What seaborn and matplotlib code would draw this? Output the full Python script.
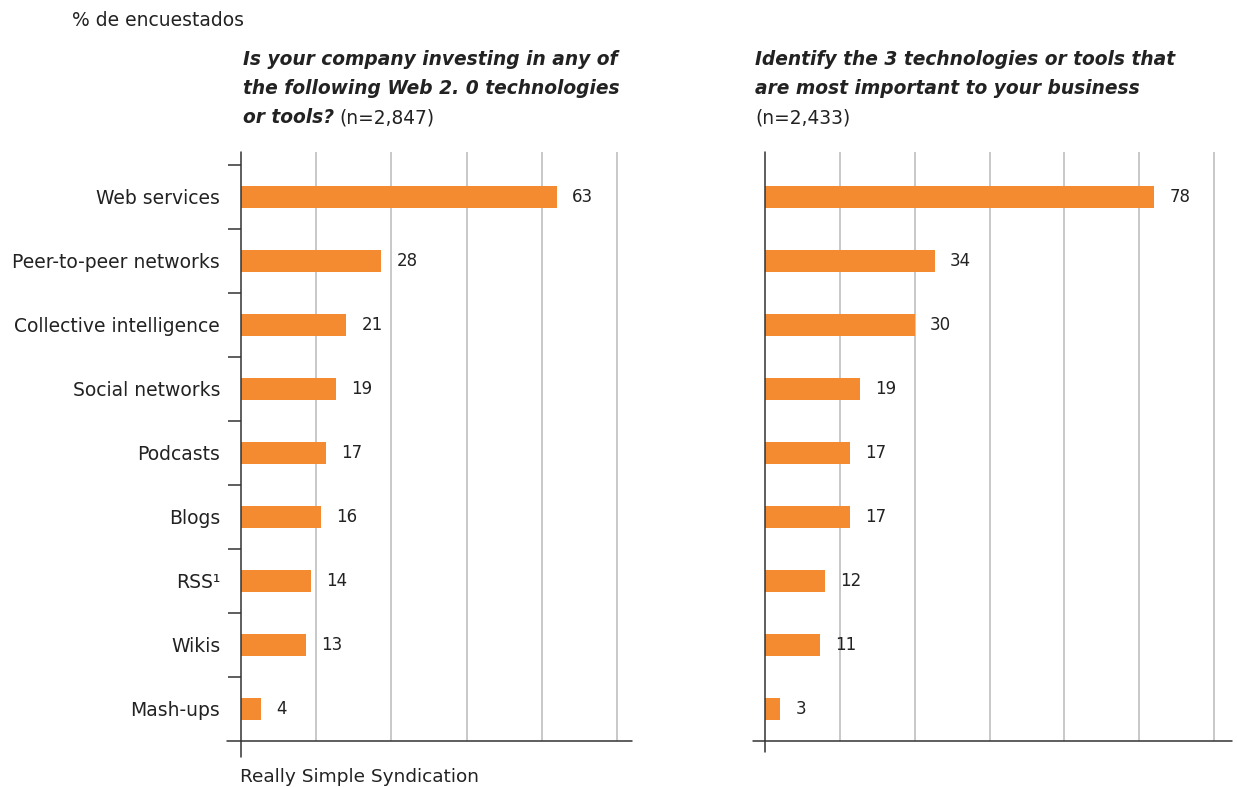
import matplotlib
matplotlib.use("Agg")
import matplotlib.pyplot as plt
import seaborn as sns
import pandas as pd

# Survey data (% of respondents)
categories = ["Web services", "Peer-to-peer networks", "Collective intelligence",
              "Social networks", "Podcasts", "Blogs", "RSS¹", "Wikis", "Mash-ups"]
investing = [63, 28, 21, 19, 17, 16, 14, 13, 4]
most_important = [78, 34, 30, 19, 17, 17, 12, 11, 3]
left_grid = [15, 30, 45, 60, 75]
right_grid = [15, 30, 45, 60, 75, 90]

ORANGE = "#F58B30"
INK = "#222222"
GRID = "#c4c4c4"

sns.set_style("white")
plt.rcParams["font.family"] = ["DejaVu Sans"]
plt.rcParams["text.color"] = INK

W, H = 1237, 787
fig = plt.figure(figsize=(W / 100, H / 100), dpi=100)


def px_axes(x0, x1, top, bottom):
    return fig.add_axes([x0 / W, 1 - bottom / H, (x1 - x0) / W, (bottom - top) / H])


ax1 = px_axes(241, 632, 152, 741)
ax2 = px_axes(765, 1232, 152, 741)

df = pd.DataFrame({"tech": categories, "investing": investing,
                   "important": most_important})

panels = [
    (ax1, "investing", 78.0, left_grid, True, 16, 14),
    (ax2, "important", 93.6, right_grid, False, 11, 12),
]

for ax, col, xmax, grid, show_labels, spine_drop, base_ext in panels:
    sns.barplot(data=df, x=col, y="tech", ax=ax, color=ORANGE, saturation=1,
                width=0.34, orient="h", edgecolor="none")
    ax.set_xlim(0, xmax)
    ax.set_ylim(len(categories) - 0.5, -0.7)
    ax.set_xlabel("")
    ax.set_ylabel("")

    # vertical grid every 15 points
    ax.set_xticks(grid)
    ax.set_xticklabels([])
    ax.tick_params(axis="x", length=0)
    ax.xaxis.grid(True, color=GRID, linewidth=1.3)
    ax.set_axisbelow(True)

    for s in ax.spines.values():
        s.set_visible(False)

    axes_h = 741 - 152
    axes_w = ax.bbox.width
    # left axis line running slightly below the baseline
    ax.plot([0, 0], [-spine_drop / axes_h, 1], transform=ax.transAxes,
            color="#333333", lw=1.1, clip_on=False, zorder=5)
    # baseline reaching slightly left of the axis
    ax.plot([-base_ext / axes_w, 1], [0, 0], transform=ax.transAxes,
            color="#333333", lw=1.1, clip_on=False, zorder=5)

    ax.bar_label(ax.containers[0], fmt="%g", padding=11, fontsize=12, color=INK)

    if show_labels:
        ax.set_yticks(range(len(categories)))
        ax.set_yticklabels(categories, fontsize=13.5, color=INK)
        ax.tick_params(axis="y", which="major", length=0, pad=15)
        ax.set_yticks([i - 0.5 for i in range(len(categories))], minor=True)
        ax.tick_params(axis="y", which="minor", length=9.5, width=1.1,
                       color="#333333", left=True)
    else:
        ax.set_yticks([])

# Header and titles
fig.text(72 / W, 1 - 20 / H, "% de encuestados", fontsize=13.5, va="center",
         ha="left", color=INK)

TS = 13.4
title_kw = dict(fontsize=TS, fontweight="bold", fontstyle="italic",
                va="baseline", ha="left", color=INK)
fig.text(243 / W, 1 - 65 / H, "Is your company investing in any of", **title_kw)
fig.text(243 / W, 1 - 94 / H, "the following Web 2. 0 technologies", **title_kw)
t3 = fig.text(243 / W, 1 - 123 / H, "or tools?", **title_kw)
n_left = fig.text(0, 1 - 123 / H, "(n=2,847)", fontsize=TS, color=INK,
                  va="baseline", ha="left")

fig.text(755 / W, 1 - 65 / H, "Identify the 3 technologies or tools that", **title_kw)
fig.text(755 / W, 1 - 94 / H, "are most important to your business", **title_kw)
fig.text(755 / W, 1 - 123 / H, "(n=2,433)", fontsize=TS, color=INK,
         va="baseline", ha="left")

fig.text(240 / W, 1 - 777 / H, "Really Simple Syndication", fontsize=13.3,
         va="center", ha="left", color=INK)

# place the sample size right after the bold question text
fig.canvas.draw()
renderer = fig.canvas.get_renderer()
bb = t3.get_window_extent(renderer)
n_left.set_position(((bb.x1 + 5) / W, 1 - 123 / H))

fig.savefig("out.png", dpi=100)
